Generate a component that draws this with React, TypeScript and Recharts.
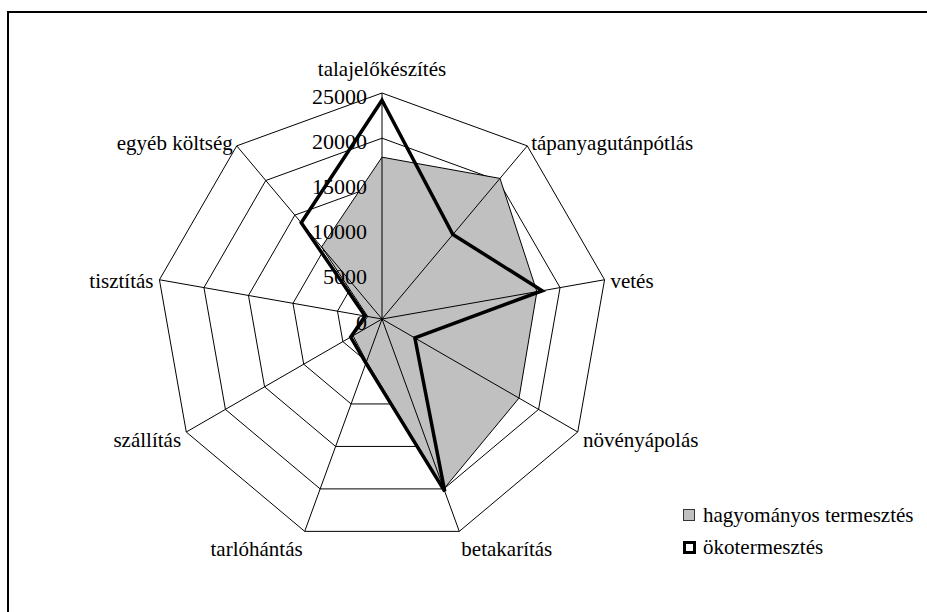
import React from 'react';
import { RadarChart, Radar, PolarGrid, PolarAngleAxis, PolarRadiusAxis, Legend } from 'recharts';

const categories = [
  'talajelőkészítés',
  'tápanyagutánpótlás',
  'vetés',
  'növényápolás',
  'betakarítás',
  'tarlóhántás',
  'szállítás',
  'tisztítás',
  'egyéb költség',
];
const hagyomanyos = [17900, 20300, 17400, 17500, 20000, 5000, 3700, 1600, 10400];
const oko = [24200, 12200, 18000, 4200, 20300, 5200, 4000, 1900, 13900];
const radiusTicks = [0, 5000, 10000, 15000, 20000, 25000];

const seriesNames = ['hagyományos termesztés', 'ökotermesztés'];

const data = categories.map((c, i) => ({ cat: c, hagyomanyos: hagyomanyos[i], oko: oko[i] }));

const CX = 382;
const CY = 319;
const R = 226;
const FONT = "Liberation Serif, DejaVu Serif, Times New Roman, serif";

const AngleTick = (props: any) => {
  const { payload, index } = props;
  const angle = typeof payload?.coordinate === 'number' ? payload.coordinate : 90 - index * 40;
  const rad = (-angle * Math.PI) / 180;
  const r = R + 6;
  const px = CX + r * Math.cos(rad);
  const py = CY + r * Math.sin(rad);
  const dx = px - CX;
  const down = py > CY ? Math.pow((py - CY) / r, 2) * 11 : 0;
  if (Math.abs(dx) < 1) {
    return (
      <text x={CX} y={CY - R - 17} textAnchor="middle" style={{ fontFamily: FONT }} fontSize={21} fill="#000">
        {payload.value}
      </text>
    );
  }
  return (
    <text
      x={px}
      y={py + down + 2}
      textAnchor={dx > 0 ? 'start' : 'end'}
      dominantBaseline="central"
      style={{ fontFamily: FONT }}
      fontSize={21}
      fill="#000"
    >
      {payload.value}
    </text>
  );
};

const RadiusTick = (props: any) => {
  const { x, y, payload } = props;
  return (
    <text x={x - 15} y={y + 3} textAnchor="end" dominantBaseline="central" style={{ fontFamily: FONT }} fontSize={22} fill="#000">
      {payload.value}
    </text>
  );
};

const LegendBox = () => (
  <div style={{ fontFamily: FONT, fontSize: 21, color: '#000', lineHeight: '32px' }}>
    <div style={{ display: 'flex', alignItems: 'center', height: 32 }}>
      <span style={{ display: 'inline-block', width: 10, height: 10, background: '#c0c0c0', border: '1px solid #333', marginRight: 8 }} />
      {seriesNames[0]}
    </div>
    <div style={{ display: 'flex', alignItems: 'center', height: 32 }}>
      <span style={{ display: 'inline-block', width: 7, height: 7, background: '#fff', border: '3px solid #000', marginRight: 7 }} />
      {seriesNames[1]}
    </div>
  </div>
);

export default function App() {
  return (
    <div style={{ position: 'absolute', left: 0, top: 0, width: 927, height: 612, overflow: 'hidden', background: '#fff', fontFamily: FONT }}>
      <div style={{ position: 'absolute', left: 7, top: 11, width: 980, height: 660, border: '2px solid #000' }} />
      <div style={{ position: 'absolute', left: 0, top: 0 }}>
        <RadarChart
          width={927}
          height={612}
          data={data}
          cx={CX}
          cy={CY}
          outerRadius={R}
          startAngle={90}
          endAngle={-270}
          margin={{ top: 0, right: 0, bottom: 0, left: 0 }}
        >
          <PolarGrid gridType="polygon" stroke="#000" strokeWidth={1} radialLines={false} strokeOpacity={1} />
          <PolarAngleAxis dataKey="cat" tick={<AngleTick />} tickLine={false} axisLine={false} />
          <PolarRadiusAxis
            angle={90}
            domain={[0, 25000]}
            ticks={radiusTicks}
            tick={<RadiusTick />}
            axisLine={false}
            tickLine={false}
          />
          <Radar
            name={seriesNames[0]}
            dataKey="hagyomanyos"
            fill="#c0c0c0"
            fillOpacity={1}
            stroke="#000"
            strokeWidth={1}
            isAnimationActive={false}
          />
          <PolarGrid gridType="polygon" stroke="#000" strokeWidth={1} polarRadius={[]} zIndex={1000} />
          <Radar
            name={seriesNames[1]}
            dataKey="oko"
            fill="none"
            fillOpacity={0}
            stroke="#000"
            strokeWidth={3.5}
            strokeLinejoin="miter"
            isAnimationActive={false}
          />
          <Legend
            content={<LegendBox />}
            wrapperStyle={{ position: 'absolute', left: 683, top: 499, width: 240 }}
          />
        </RadarChart>
      </div>
    </div>
  );
}
